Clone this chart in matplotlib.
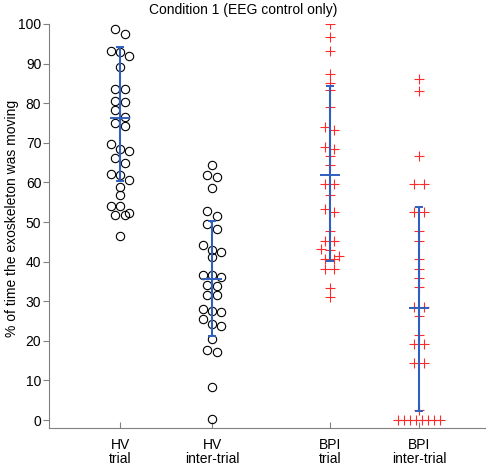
import numpy as np
import matplotlib.pyplot as plt

plt.rcParams['font.family'] = ['Liberation Sans', 'DejaVu Sans']

# values (% of time moving)
labels = ['HV\ntrial', 'HV\ninter-trial', 'BPI\ntrial', 'BPI\ninter-trial']
hv_trial = [98.8, 97.5, 93.2, 93.0, 91.9, 89.2, 83.6, 83.6, 80.6, 80.3,
            78.2, 76.5, 75.0, 74.2, 69.7, 68.4, 67.9, 66.2, 65.0, 62.2,
            61.8, 60.6, 58.8, 56.8, 54.1, 54.0, 52.4, 51.7, 51.7, 46.5]
hv_inter = [64.3, 61.9, 61.4, 58.6, 52.9, 51.5, 49.6, 48.2, 44.3, 42.9,
            42.4, 41.1, 36.7, 36.7, 36.2, 34.2, 33.8, 31.5, 31.5, 28.1,
            27.5, 27.2, 25.4, 24.3, 23.7, 20.4, 17.7, 17.2, 8.3, 0.2]
bpi_trial = [100.0, 96.6, 93.3, 87.5, 85.2, 83.3, 79.0, 73.9, 73.2, 69.0,
             68.5, 66.7, 64.4, 59.6, 59.6, 56.8, 53.2, 52.5, 47.8, 45.3,
             45.3, 43.3, 42.9, 41.4, 40.6, 40.6, 38.1, 38.1, 33.4, 31.0]
bpi_inter = [86.2, 83.1, 66.7, 59.6, 59.6, 52.5, 52.5, 47.7, 45.3, 40.6,
             38.2, 35.8, 33.5, 28.6, 28.6, 26.3, 21.5, 19.1, 19.1, 14.3,
             14.3, 2.5, 0.0, 0.0, 0.0, 0.0, 0.0, 0.0, 0.0, 0.0]
centre = [76.2, 35.6, 61.9, 28.4]
bar_top = [94.2, 50.3, 84.3, 53.9]
bar_bottom = [60.4, 21.2, 40.2, 2.4]

groups = [hv_trial, hv_inter, bpi_trial, bpi_inter]
xpos = [1.0, 2.0, 3.28, 4.25]


def spread(vals, binw=1.9, step=0.1, maxspan=0.45):
    # plotSpread-like jitter: group close values, spread them symmetrically
    vals = np.asarray(vals, dtype=float)
    order = np.argsort(-vals)
    offs = np.zeros(len(vals))
    i = 0
    while i < len(order):
        j = i
        while j + 1 < len(order) and vals[order[i]] - vals[order[j + 1]] < binw:
            j += 1
        n = j - i + 1
        st = step if n < 3 else min(step, maxspan / (n - 1))
        for k in range(n):
            offs[order[i + k]] = (k - (n - 1) / 2) * st
        i = j + 1
    return offs


fig = plt.figure(figsize=(4.86, 4.68), dpi=100)
ax = fig.add_axes([49 / 486, 1 - 428 / 468, 1 - 49 / 486, (428 - 24) / 468])

blue = '#2f5fbf'
for g, (vals, x0) in enumerate(zip(groups, xpos)):
    xs = x0 + spread(vals)
    if g < 2:
        ax.plot(xs, vals, 'o', ms=6, mfc='none', mec='black', mew=0.8, zorder=2)
    else:
        ax.plot(xs, vals, '+', ms=6.5, color='#ff2a2a', mew=0.8, zorder=2)
    lo = centre[g] - bar_bottom[g]
    hi = bar_top[g] - centre[g]
    ax.errorbar([x0], [centre[g]], yerr=[[lo], [hi]], fmt='_', ms=15, mew=1.4,
                color=blue, ecolor=blue, elinewidth=1.5, capsize=3, capthick=1.4,
                zorder=3)

ax.set_xlim(0.228, 4.978)
ax.set_ylim(-2, 100)
ax.set_xticks(xpos)
ax.set_xticklabels(labels, fontsize=10, linespacing=1.05)
ax.set_yticks(np.arange(0, 101, 10))
ax.tick_params(axis='y', direction='out', length=4, color='#808080', labelsize=10, pad=1.5)
ax.tick_params(axis='x', direction='in', length=4, color='#808080', pad=7)
for s in ['top', 'right']:
    ax.spines[s].set_visible(False)
for s in ['left', 'bottom']:
    ax.spines[s].set_color('#808080')
ax.set_ylabel('% of time the exoskeleton was moving', fontsize=10, va='center')
ax.yaxis.set_label_coords((12 - 49) / 437, (428 - 218) / 404)
fig.text(243 / 486, 1 - 10 / 468, 'Condition 1 (EEG control only)', ha='center', va='center', fontsize=10)

fig.savefig('out.png', dpi=100)
